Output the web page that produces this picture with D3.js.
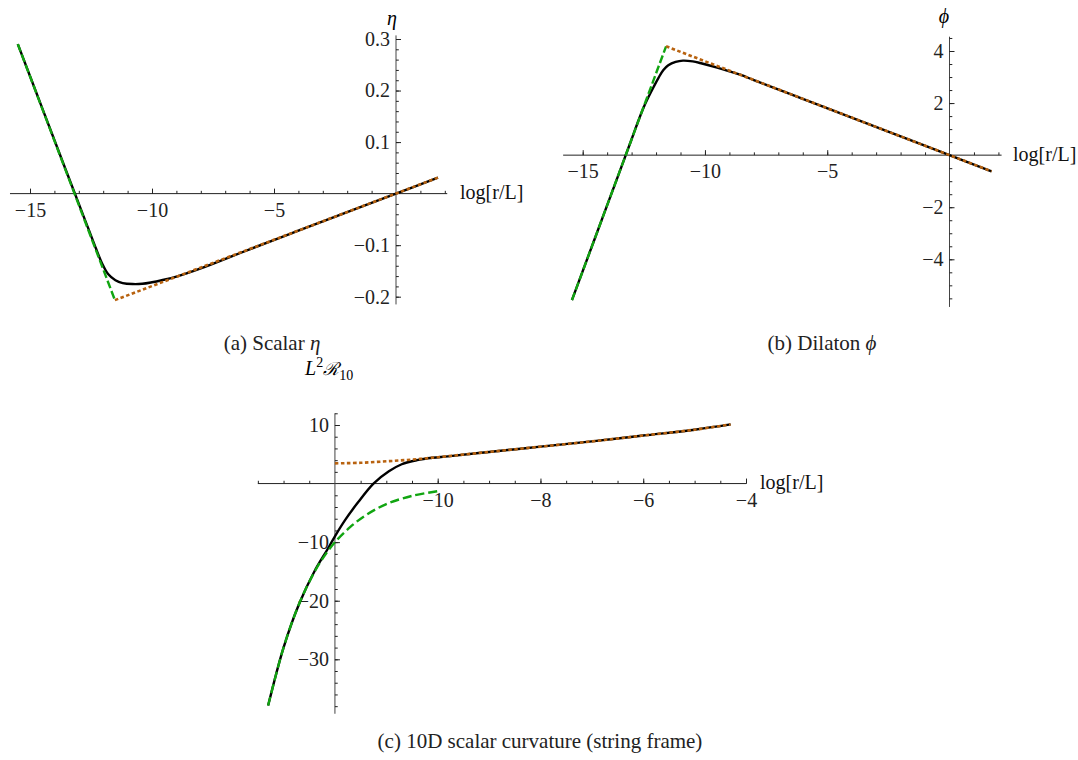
<!DOCTYPE html>
<html><head><meta charset="utf-8">
<script src="https://cdn.jsdelivr.net/npm/d3@7"></script>
<style>body{margin:0;background:#fff} svg{display:block}</style>
</head><body>
<svg id="chart" width="1078" height="760"></svg>
<script>
// ---------- Panel (a): Scalar eta ----------
const aBlackX = [-15.5,-14.5,-13.5,-12.9,-12.6,-12.3,-12.05,-11.8,-11.5,-11.2,-10.8,-10.4,-10,-9.6,-9,-8,-6,-4,-2,0,1.72];
const aBlackY = [0.29,0.166,0.042,-0.032,-0.069,-0.106,-0.135,-0.156,-0.168,-0.1735,-0.1755,-0.175,-0.172,-0.168,-0.161,-0.145,-0.108,-0.072,-0.036,0,0.031];
const aGreenX = [-15.5,-11.52];
const aGreenY = [0.29,-0.2066];
const aOrangeX = [-11.52,1.72];
const aOrangeY = [-0.2066,0.031];
const aXTicks = [-15,-10,-5];
const aYTicks = [0.3,0.2,0.1,-0.1,-0.2];

// ---------- Panel (b): Dilaton phi ----------
const bBlackX = [-15.44,-14.5,-13.5,-13,-12.7,-12.5,-12.3,-12.1,-11.9,-11.7,-11.5,-11.2,-10.9,-10.5,-10.2,-9.5,-9,-8.5,-8,-6,-4,-2,0,1.72];
const bBlackY = [-5.57,-3.19,-0.66,0.61,1.38,1.85,2.25,2.62,2.97,3.27,3.45,3.58,3.63,3.6,3.54,3.36,3.22,3.07,2.88,2.16,1.44,0.72,0,-0.62];
const bGreenX = [-15.44,-11.59];
const bGreenY = [-5.57,4.18];
const bOrangeX = [-11.59,1.72];
const bOrangeY = [4.18,-0.62];
const bXTicks = [-15,-10,-5];
const bYTicks = [4,2,-2,-4];

// ---------- Panel (c): 10D scalar curvature ----------
const cBlackX = [-13.3,-13.0,-12.7,-12.4,-12.15,-12,-11.8,-11.55,-11.25,-10.95,-10.7,-10.4,-10.1,-9.8,-9,-8,-7,-6,-5,-4.3];
const cBlackY = [-37.9,-28.0,-20.6,-15.0,-11.3,-9.0,-6.2,-3.2,0,2.1,3.3,4.0,4.4,4.65,5.4,6.3,7.2,8.2,9.2,10.1];
const cGreenX = [-13.3,-13.0,-12.7,-12.4,-12.2,-12,-11.7,-11.4,-11,-10.5,-10];
const cGreenY = [-37.9,-28.0,-20.6,-15.1,-12.3,-10.0,-7.4,-5.4,-3.5,-2.1,-1.3];
const cOrangeX = [-12,-11.5,-11,-10.5,-10,-9,-8,-7,-6,-5,-4.3];
const cOrangeY = [3.45,3.55,3.8,4.1,4.5,5.4,6.3,7.2,8.2,9.2,10.1];
const cXTicks = [-10,-8,-6,-4];
const cYTicks = [10,-10,-20,-30];

const captions = ["(a) Scalar ", "(b) Dilaton ", "(c) 10D scalar curvature (string frame)"];

const COL_BLACK = "#000000", COL_GREEN = "#11a511", COL_ORANGE = "#b8620f";
const FONT = "'Liberation Serif','Times New Roman',serif";
const svg = d3.select("#chart");
const fmt = v => (v < 0 ? "\u2212" : "") + String(Math.abs(v));

function panel(cfg) {
  const g = svg.append("g");
  const x = d3.scaleLinear().domain(cfg.xd).range(cfg.xr);
  const y = d3.scaleLinear().domain(cfg.yd).range(cfg.yr);
  const y0 = y(cfg.xAxisAt), x0 = x(cfg.yAxisAt);
  g.append("line").attr("x1", x(cfg.xExt[0])).attr("x2", x(cfg.xExt[1]))
    .attr("y1", y0).attr("y2", y0).attr("stroke", "#222").attr("stroke-width", 1);
  g.append("line").attr("x1", x0).attr("x2", x0)
    .attr("y1", y(cfg.yExt[0])).attr("y2", y(cfg.yExt[1])).attr("stroke", "#444").attr("stroke-width", 1);
  const xm = d3.range(cfg.xMinor[0], cfg.xMinor[1] + 1e-9, cfg.xMinor[2]).filter(v => Math.abs(v - cfg.yAxisAt) > 1e-9);
  const ym = d3.range(cfg.yMinor[0], cfg.yMinor[1] + 1e-9, cfg.yMinor[2]).filter(v => Math.abs(v - cfg.xAxisAt) > 1e-9);
  const gxm = g.append("g").attr("transform", `translate(0,${y0})`)
    .call(d3.axisBottom(x).tickValues(xm).tickSize(-2.8).tickFormat(""));
  const gym = g.append("g").attr("transform", `translate(${x0},0)`)
    .call(d3.axisLeft(y).tickValues(ym).tickSize(-2.8).tickFormat(""));
  const gx = g.append("g").attr("transform", `translate(0,${y0})`)
    .call(d3.axisBottom(x).tickValues(cfg.xTicks).tickSizeInner(-5).tickSizeOuter(0).tickPadding(9).tickFormat(fmt));
  const gy = g.append("g").attr("transform", `translate(${x0},0)`)
    .call(d3.axisLeft(y).tickValues(cfg.yTicks).tickSizeInner(-5).tickSizeOuter(0).tickPadding(6).tickFormat(fmt));
  [gxm, gym, gx, gy].forEach(a => {
    a.select(".domain").remove();
    a.selectAll("line").attr("stroke", "#222");
    a.selectAll("text").attr("font-family", FONT).attr("font-size", 20).attr("fill", "#222");
  });
  const line = d3.line().x(d => x(d[0])).y(d => y(d[1])).curve(d3.curveCatmullRom.alpha(0.5));
  const zip = (a, b) => a.map((v, i) => [v, b[i]]);
  g.append("path").datum(zip(cfg.black[0], cfg.black[1])).attr("d", line)
    .attr("fill", "none").attr("stroke", COL_BLACK).attr("stroke-width", 2.4).attr("stroke-linejoin", "round");
  g.append("path").datum(zip(cfg.green[0], cfg.green[1])).attr("d", line)
    .attr("fill", "none").attr("stroke", COL_GREEN).attr("stroke-width", 2.4).attr("stroke-dasharray", cfg.greenDash);
  g.append("path").datum(zip(cfg.orange[0], cfg.orange[1])).attr("d", line)
    .attr("fill", "none").attr("stroke", COL_ORANGE).attr("stroke-width", 2.6).attr("stroke-dasharray", "3.5,2.5");
  g.append("text").attr("x", cfg.xLabelPos[0]).attr("y", cfg.xLabelPos[1])
    .attr("font-family", FONT).attr("font-size", 20).attr("fill", "#111").text("log[r/L]");
  return {g, x, y};
}

panel({
  xd: [-15, 0], xr: [30, 396], yd: [-0.2, 0.3], yr: [296.7, 39],
  xAxisAt: 0, yAxisAt: 0, xExt: [-15.82, 2.1], yExt: [0.307, -0.215],
  xMinor: [-15, 2, 1], yMinor: [-0.2, 0.3, 0.02],
  xTicks: aXTicks, yTicks: aYTicks,
  black: [aBlackX, aBlackY], green: [aGreenX, aGreenY], orange: [aOrangeX, aOrangeY],
  greenDash: "8,3", xLabelPos: [460, 199]
});
panel({
  xd: [-15, 0], xr: [582.7, 949.5], yd: [-4, 4], yr: [259.3, 51],
  xAxisAt: 0, yAxisAt: 0, xExt: [-15.8, 2.13], yExt: [4.55, -5.83],
  xMinor: [-15, 2, 1], yMinor: [-5.5, 4.5, 0.5],
  xTicks: bXTicks, yTicks: bYTicks,
  black: [bBlackX, bBlackY], green: [bGreenX, bGreenY], orange: [bOrangeX, bOrangeY],
  greenDash: "8,3", xLabelPos: [1013, 161]
});
panel({
  xd: [-10, -4], xr: [437.7, 746], yd: [-30, 10], yr: [659.3, 425],
  xAxisAt: 0, yAxisAt: -12, xExt: [-13.5, -4], yExt: [12, -39.3],
  xMinor: [-13.5, -4, 0.5], yMinor: [-38, 12, 2],
  xTicks: cXTicks, yTicks: cYTicks,
  black: [cBlackX, cBlackY], green: [cGreenX, cGreenY], orange: [cOrangeX, cOrangeY],
  greenDash: "9,4", xLabelPos: [760, 489]
});

svg.append("text").attr("x", 392).attr("y", 25).attr("text-anchor", "middle")
  .attr("font-family", FONT).attr("font-style", "italic").attr("font-size", 20).text("\u03B7");
svg.append("text").attr("x", 944).attr("y", 23).attr("text-anchor", "middle")
  .attr("font-family", FONT).attr("font-style", "italic").attr("font-size", 20).text("\u03D5");
const t = svg.append("text").attr("x", 305).attr("y", 375).attr("font-family", FONT).attr("font-size", 20);
t.append("tspan").attr("font-style", "italic").text("L");
t.append("tspan").attr("dy", -8).attr("font-size", 14).text("2");
t.append("tspan").attr("dy", 8).attr("font-family", "'DejaVu Serif',serif").attr("font-style", "italic").attr("font-size", 18).text("\u211B");
t.append("tspan").attr("dy", 5).attr("font-size", 14).text("10");

const cap = (xc, yb, txt, sym) => {
  const tt = svg.append("text").attr("x", xc).attr("y", yb).attr("text-anchor", "middle")
    .attr("font-family", FONT).attr("font-size", 21).attr("fill", "#222");
  tt.append("tspan").text(txt);
  if (sym) tt.append("tspan").attr("font-style", "italic").text(sym);
};
cap(272, 350, captions[0], "\u03B7");
cap(822, 350, captions[1], "\u03D5");
cap(540, 748, captions[2], null);
</script>
</body></html>
